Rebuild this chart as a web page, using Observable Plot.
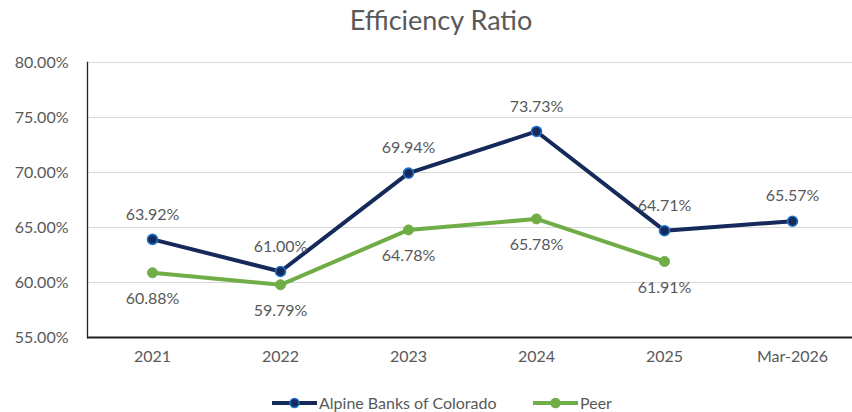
<!DOCTYPE html>
<html><head><meta charset="utf-8">
<script src="https://cdn.jsdelivr.net/npm/d3@7"></script>
<script src="https://cdn.jsdelivr.net/npm/@observablehq/plot@0.6"></script>
<style>
html,body{margin:0;padding:0;background:#fff;overflow:hidden;}
body{font-family:Lato,"Open Sans",sans-serif;width:852px;height:412px;}
#title{height:40px;line-height:40px;padding-left:30px;width:822px;text-align:center;font-size:27px;color:#595959;}
#chart svg{display:block;}
#legend{position:relative;height:27px;font-size:16px;color:#595959;}
.item{position:absolute;top:8px;display:flex;align-items:center;white-space:nowrap;}
.item svg{display:block;margin-right:2px;}
</style></head><body>
<div id="title">Efficiency Ratio</div>
<div id="chart"></div>
<div id="legend"></div>
<script>
const years = ["2021", "2022", "2023", "2024", "2025", "Mar-2026"];
const alpine = [63.92, 61.00, 69.94, 73.73, 64.71, 65.57];
const peer = [60.88, 59.79, 64.78, 65.78, 61.91, null];
const yTicks = [55, 60, 65, 70, 75, 80];
const seriesNames = ["Alpine Banks of Colorado", "Peer"];

const navy = "#15295A", navyRing = "#1F72C8", green = "#70AD47", gray = "#595959";
const fmt = v => v.toFixed(2) + "%";
const aData = years.map((y, i) => ({year: y, value: alpine[i]}));
const pData = years.map((y, i) => ({year: y, value: peer[i]})).filter(d => d.value != null);

const chart = Plot.plot({
  width: 852, height: 345,
  marginLeft: 87, marginRight: 0, marginTop: 22, marginBottom: 48,
  x: {type: "point", domain: years, range: [150, 794], padding: 0, label: null},
  y: {domain: [55, 80], label: null},
  style: {fontFamily: "Lato, 'Open Sans', sans-serif", fontSize: "16px", color: gray, background: "#fff", overflow: "visible"},
  marks: [
    Plot.ruleY(yTicks.slice(1), {stroke: "#d9d9d9", strokeWidth: 1}),
    Plot.axisY({ticks: yTicks, tickFormat: fmt, tickSize: 0, tickPadding: 19, fontSize: 16, fill: gray, label: null}),
    Plot.axisX({tickSize: 0, tickPadding: 13, fontSize: 16, fill: gray, label: null}),
    Plot.frame({anchor: "left", stroke: "#222", strokeWidth: 1.3}),
    Plot.ruleY([55], {stroke: "#222", strokeWidth: 2}),
    Plot.line(pData, {x: "year", y: "value", stroke: green, strokeWidth: 4}),
    Plot.dot(pData, {x: "year", y: "value", r: 5, fill: green, stroke: green, strokeWidth: 1}),
    Plot.line(aData, {x: "year", y: "value", stroke: navy, strokeWidth: 4}),
    Plot.dot(aData, {x: "year", y: "value", r: 5, fill: navy, stroke: navyRing, strokeWidth: 1.6}),
    Plot.text(aData, {x: "year", y: "value", text: d => fmt(d.value), dy: -25, fill: gray, fontSize: 16}),
    Plot.text(pData, {x: "year", y: "value", text: d => fmt(d.value), dy: 26, fill: gray, fontSize: 16})
  ]
});
document.getElementById("chart").appendChild(chart);

const legend = document.getElementById("legend");
const items = [
  {name: seriesNames[0], color: navy, ring: navyRing, left: 272},
  {name: seriesNames[1], color: green, ring: green, left: 533}
];
for (const it of items) {
  const div = document.createElement("div");
  div.className = "item";
  div.style.left = it.left + "px";
  div.innerHTML = `<svg width="45" height="14"><line x1="0" y1="7" x2="45" y2="7" stroke="${it.color}" stroke-width="4"/><circle cx="22.5" cy="7" r="4.5" fill="${it.color}" stroke="${it.ring}" stroke-width="1.5"/></svg><span>${it.name}</span>`;
  legend.appendChild(div);
}
</script>
</body></html>
